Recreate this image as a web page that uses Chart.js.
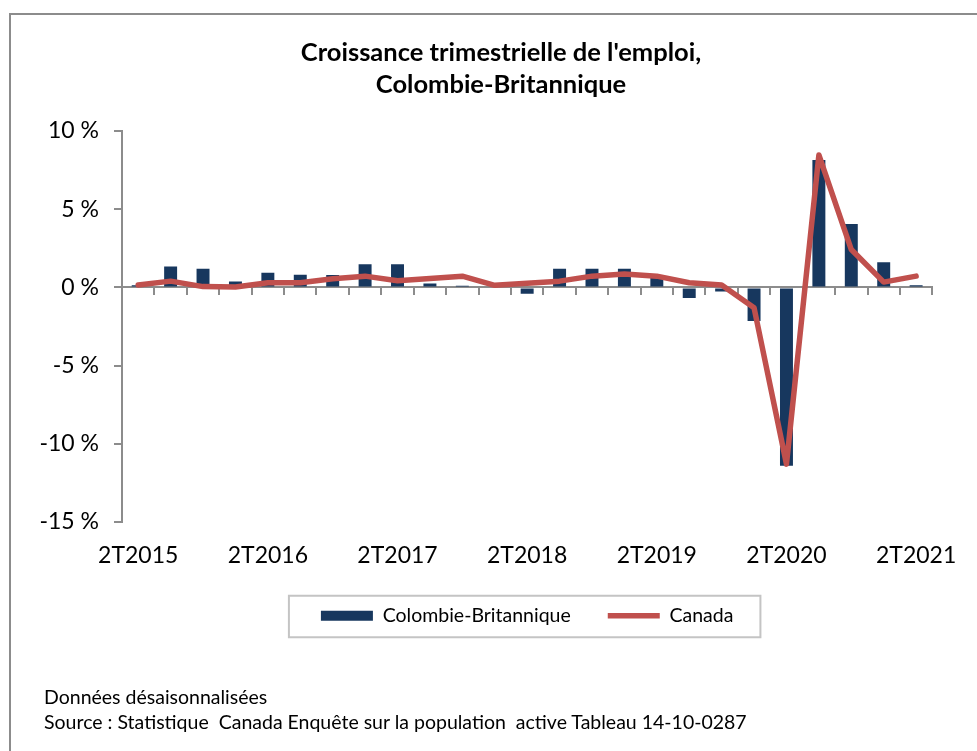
<!DOCTYPE html>
<html><head><meta charset="utf-8">
<script src="https://cdn.jsdelivr.net/npm/chart.js@4"></script>
<style>
html,body{margin:0;padding:0;background:#fff;}
#wrap{position:relative;width:977px;height:751px;overflow:hidden;}
#frame{position:absolute;left:9px;top:13px;width:1100px;height:800px;border-left:2px solid #8c8c8c;border-top:2px solid #8c8c8c;}
#c{position:absolute;left:0;top:0;}
#title{position:absolute;left:0;width:1002px;top:35px;text-align:center;font:bold 25.5px Lato;line-height:32px;color:#000;}
.note{position:absolute;left:44px;font:19.5px Lato;color:#000;white-space:pre;}
</style></head>
<body>
<div id="wrap">
<div id="frame"></div>
<canvas id="c" width="977" height="751"></canvas>
<div id="title">Croissance trimestrielle de l'emploi,<br>Colombie-Britannique</div>
<div class="note" style="top:685px;">Données désaisonnalisées</div>
<div class="note" style="top:710px;">Source : Statistique  Canada Enquête sur la population  active Tableau 14-10-0287</div>
</div>
<script>
const quarters = ['2T2015','3T2015','4T2015','1T2016','2T2016','3T2016','4T2016','1T2017','2T2017','3T2017','4T2017','1T2018','2T2018','3T2018','4T2018','1T2019','2T2019','3T2019','4T2019','1T2020','2T2020','3T2020','4T2020','1T2021','2T2021'];
const bcValues = [0.13, 1.34, 1.19, 0.38, 0.93, 0.81, 0.80, 1.48, 1.48, 0.25, 0.10, 0.05, -0.40, 1.20, 1.20, 1.20, 0.70, -0.68, -0.27, -2.15, -11.4, 8.15, 4.06, 1.61, 0.13];
const canadaValues = [0.15, 0.40, 0.05, 0.02, 0.30, 0.30, 0.55, 0.72, 0.43, 0.57, 0.72, 0.13, 0.27, 0.40, 0.72, 0.85, 0.72, 0.30, 0.15, -1.30, -11.3, 8.47, 2.42, 0.34, 0.72];
const yTicks = [10, 5, 0, -5, -10, -15];
const shownLabels = ['2T2015','2T2016','2T2017','2T2018','2T2019','2T2020','2T2021'];

const grey = '#8c8c8c';
const legendBorder = {
  id: 'legendBorder',
  afterDraw(chart) {
    const hb = chart.legend && chart.legend.legendHitBoxes;
    if (!hb || !hb.length) return;
    const left = Math.min(...hb.map(h => h.left)) - 32;
    const right = Math.max(...hb.map(h => h.left + h.width)) + 27;
    const cy = hb[0].top + hb[0].height / 2;
    const ctx = chart.ctx;
    ctx.save();
    ctx.strokeStyle = '#c4c4c4';
    ctx.lineWidth = 2;
    ctx.strokeRect(left, cy - 20, right - left, 41.5);
    ctx.restore();
  }
};

new Chart(document.getElementById('c'), {
  type: 'bar',
  data: {
    labels: quarters,
    datasets: [
      {
        type: 'bar', label: 'Colombie-Britannique', data: bcValues,
        backgroundColor: '#17375e', borderWidth: 0,
        categoryPercentage: 1, barPercentage: 0.4,
        pointStyle: 'rect', order: 1, xAxisID: 'x', yAxisID: 'y'
      },
      {
        type: 'line', label: 'Canada', data: canadaValues,
        borderColor: '#c0504d', backgroundColor: '#c0504d', borderWidth: 5.5,
        borderCapStyle: 'round', borderJoinStyle: 'round',
        pointRadius: 0, pointHoverRadius: 0, pointStyle: 'line', tension: 0,
        order: 0, xAxisID: 'x', yAxisID: 'y'
      }
    ]
  },
  options: {
    responsive: false,
    animation: false,
    layout: { padding: { left: 0, right: 37, top: 131, bottom: 115.5 } },
    plugins: {
      title: { display: false },
      tooltip: { enabled: false },
      legend: {
        position: 'bottom',
        fullSize: false,
        labels: {
          usePointStyle: true, pointStyleWidth: 52, boxHeight: 10,
          padding: 37, color: '#000',
          font: { family: 'Lato', size: 19.5 },
          sort: (a, b) => a.datasetIndex - b.datasetIndex
        }
      }
    },
    scales: {
      x: {
        type: 'category', position: 'bottom', offset: true,
        grid: { display: false, drawTicks: false },
        border: { display: false },
        ticks: {
          autoSkip: false, maxRotation: 0, minRotation: 0, padding: 20,
          color: '#000', font: { family: 'Lato', size: 23 },
          callback: function (v, i) { const l = quarters[i]; return shownLabels.includes(l) ? l : ''; }
        },
        afterFit(s) { s.height = 47; }
      },
      x2: {
        type: 'category', axis: 'x', position: { y: 0 }, offset: true,
        grid: { offset: true, drawOnChartArea: false, drawTicks: true, tickLength: 7, color: grey, lineWidth: 2 },
        border: { display: true, color: grey, width: 2 },
        ticks: { display: false }
      },
      y: {
        type: 'linear', position: 'left', min: -15, max: 10,
        afterBuildTicks(s) { s.ticks = yTicks.map(v => ({ value: v })); },
        grid: { drawOnChartArea: false, drawTicks: true, tickLength: 8, color: grey, lineWidth: 2 },
        border: { display: true, color: grey, width: 2 },
        ticks: {
          padding: 15, color: '#000', font: { family: 'Lato', size: 23 },
          callback: v => v + ' %'
        },
        afterFit(s) { s.width = 122; }
      }
    }
  },
  plugins: [legendBorder]
});
</script>
</body></html>
